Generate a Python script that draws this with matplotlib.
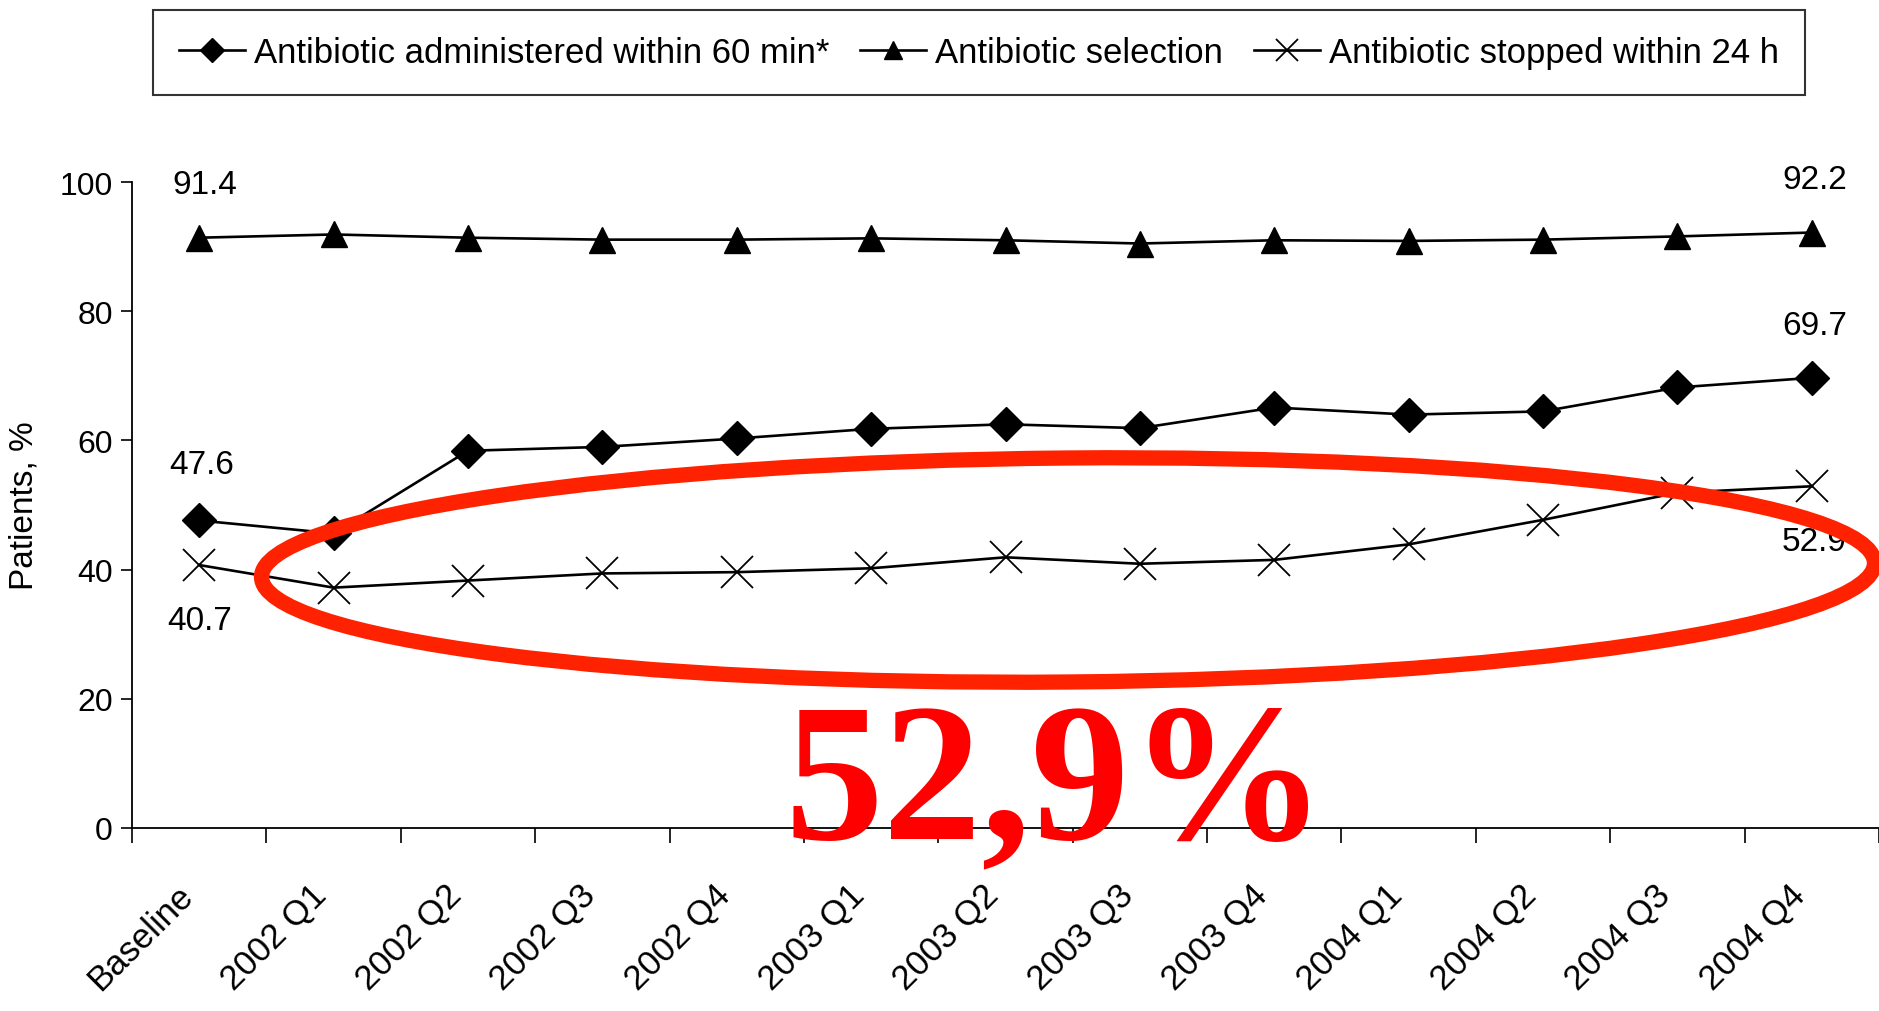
import matplotlib
matplotlib.use("Agg")
import matplotlib.pyplot as plt
from matplotlib.patches import Ellipse

# data (%)
quarters = ["Baseline", "2002 Q1", "2002 Q2", "2002 Q3", "2002 Q4",
            "2003 Q1", "2003 Q2", "2003 Q3", "2003 Q4",
            "2004 Q1", "2004 Q2", "2004 Q3", "2004 Q4"]
within_60 = [47.6, 45.6, 58.4, 59.0, 60.3, 61.8, 62.5, 61.9, 65.1, 64.0, 64.5, 68.2, 69.7]
selection = [91.4, 91.9, 91.4, 91.1, 91.1, 91.3, 91.0, 90.5, 91.0, 90.9, 91.1, 91.6, 92.2]
stopped_24h = [40.7, 37.2, 38.3, 39.4, 39.6, 40.2, 41.9, 40.9, 41.5, 43.9, 47.7, 51.9, 52.9]
series_names = ["Antibiotic administered within 60 min*",
                "Antibiotic selection",
                "Antibiotic stopped within 24 h"]
y_ticks = [0, 20, 40, 60, 80, 100]

plt.rcParams["font.family"] = ["Liberation Sans", "DejaVu Sans"]

fig = plt.figure(figsize=(18.79, 10.12), dpi=100)
ax = fig.add_axes([0.0703, 0.181, 0.9297, 0.638])

x = list(range(len(quarters)))
h1, = ax.plot(x, within_60, color="black", lw=1.9, marker="D", ms=17,
              mfc="black", mec="black")
h2, = ax.plot(x, selection, color="black", lw=1.9, marker="^", ms=19,
              mfc="black", mec="black")
h3, = ax.plot(x, stopped_24h, color="black", lw=1.9, marker="x", ms=23,
              mew=1.3, mec="black")

# end-point labels
lab_kw = dict(textcoords="offset points", ha="center", va="center", fontsize=24)
ax.annotate(f"{selection[0]}", (x[0], selection[0]), xytext=(4, 38), **lab_kw)
ax.annotate(f"{selection[-1]}", (x[-1], selection[-1]), xytext=(2, 38), **lab_kw)
ax.annotate(f"{within_60[0]}", (x[0], within_60[0]), xytext=(2, 40), **lab_kw)
ax.annotate(f"{within_60[-1]}", (x[-1], within_60[-1]), xytext=(2, 38), **lab_kw)
ax.annotate(f"{stopped_24h[0]}", (x[0], stopped_24h[0]), xytext=(0, -40), **lab_kw)
ax.annotate(f"{stopped_24h[-1]}", (x[-1], stopped_24h[-1]), xytext=(2, -40), **lab_kw)

ax.set_xlim(-0.5, len(quarters) - 0.5)
ax.set_ylim(0, 100)
ax.set_yticks(y_ticks)
# ticks sit between categories, labels are placed under each category
ax.set_xticks([i - 0.5 for i in range(len(quarters) + 1)])
ax.set_xticklabels([])
for i, q in enumerate(quarters):
    ax.annotate(q, (i, 0), xytext=(-17, -36), textcoords="offset points",
                rotation=45, ha="right", va="top", rotation_mode="anchor",
                fontsize=25, annotation_clip=False)
ax.tick_params(axis="x", length=11, width=1.2, direction="out")
ax.tick_params(axis="y", length=8, width=1.2, labelsize=23, pad=6)
ax.set_ylabel("Patients, %", fontsize=24, labelpad=14)
for side in ("top", "right"):
    ax.spines[side].set_visible(False)
for side in ("left", "bottom"):
    ax.spines[side].set_linewidth(1.3)

leg = fig.legend([h1, h2, h3], series_names, loc="center",
                 bbox_to_anchor=(0.521, 0.947), ncol=3, fontsize=25,
                 frameon=True, fancybox=False, edgecolor="black",
                 handlelength=1.9, handletextpad=0.25, columnspacing=0.9,
                 borderpad=0.75, markerscale=0.7)
leg.get_frame().set_linewidth(1.5)

# red hand-drawn style highlight
ring = Ellipse((10.68, 4.41), 16.13, 2.24, angle=0.5, fill=False,
               ec="#ff2200", lw=11, transform=fig.dpi_scale_trans, zorder=5)
fig.patches.append(ring)
fig.text(0.562, 0.171, "52,9%", color="#ff0000", fontsize=142,
         fontweight="bold", family=["Liberation Serif", "DejaVu Serif"],
         ha="center", va="baseline", zorder=6)

fig.savefig("out.png", dpi=100)
